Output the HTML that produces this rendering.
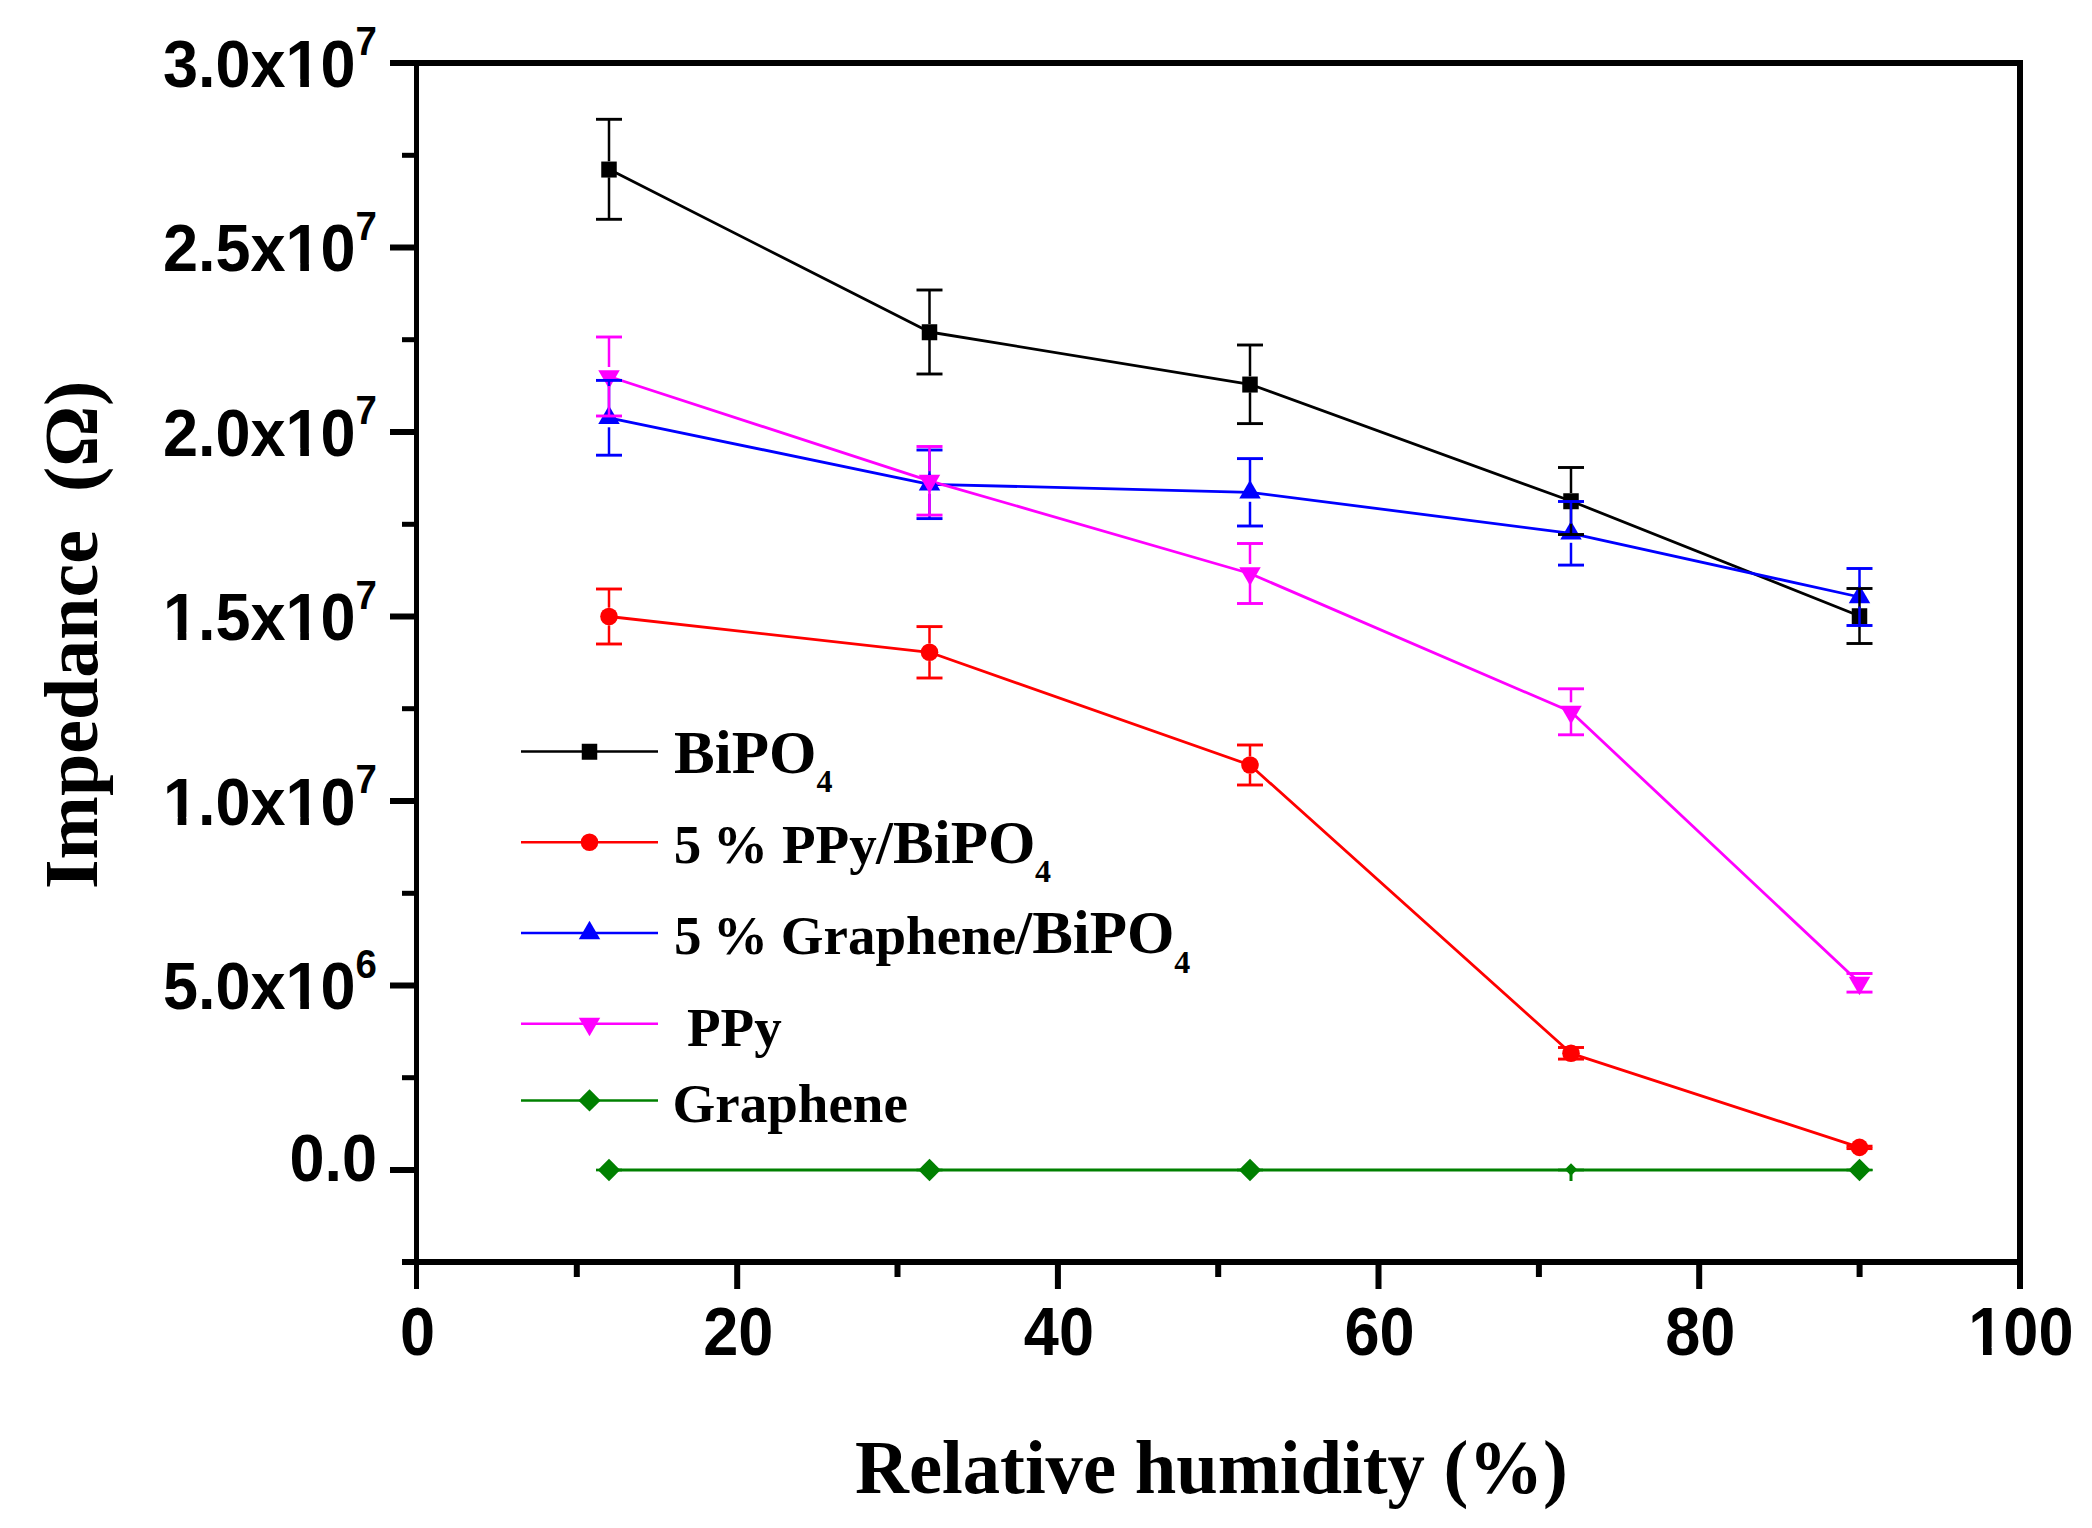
<!DOCTYPE html><html><head><meta charset="utf-8"><title>Impedance vs Relative humidity</title>
<style>html,body{margin:0;padding:0;background:#fff;}body{width:2092px;height:1528px;overflow:hidden;}svg{display:block;}.tk{font-family:"Liberation Sans",Arial,sans-serif;font-weight:bold;}.tt{font-family:"Liberation Serif","Times New Roman",serif;font-weight:bold;}</style></head><body>
<svg width="2092" height="1528" viewBox="0 0 2092 1528">
<rect x="0" y="0" width="2092" height="1528" fill="#fff"/>
<g fill="none" stroke-width="2.8" stroke-linejoin="round">
<polyline points="609.0,169.3 929.5,332.0 1250.0,384.3 1571.0,501.0 1859.5,616.0" stroke="#000000"/>
<polyline points="609.0,616.5 929.5,652.3 1250.0,765.0 1571.0,1053.3 1859.5,1147.4" stroke="#ff0000"/>
<polyline points="609.0,417.8 929.5,484.3 1250.0,492.3 1571.0,533.3 1859.5,597.0" stroke="#0000ff"/>
<polyline points="609.0,376.5 929.5,480.8 1250.0,573.5 1571.0,711.8 1859.5,982.8" stroke="#ff00ff"/>
<polyline points="609.0,1170.0 929.5,1170.0 1250.0,1170.0 1571.0,1170.0 1859.5,1170.0" stroke="#008000"/>
</g>
<rect x="601.25" y="161.55" width="15.50" height="16.00" fill="#000000"/>
<rect x="921.75" y="324.25" width="15.50" height="16.00" fill="#000000"/>
<rect x="1242.25" y="376.55" width="15.50" height="16.00" fill="#000000"/>
<rect x="1563.25" y="493.25" width="15.50" height="16.00" fill="#000000"/>
<rect x="1851.75" y="608.25" width="15.50" height="16.00" fill="#000000"/>
<circle cx="609.00" cy="616.50" r="8.80" fill="#ff0000"/>
<circle cx="929.50" cy="652.30" r="8.80" fill="#ff0000"/>
<circle cx="1250.00" cy="765.00" r="8.80" fill="#ff0000"/>
<circle cx="1571.00" cy="1053.30" r="8.80" fill="#ff0000"/>
<circle cx="1859.50" cy="1147.40" r="8.80" fill="#ff0000"/>
<polygon points="609.00,405.47 619.75,423.97 598.25,423.97" fill="#0000ff"/>
<polygon points="929.50,471.97 940.25,490.47 918.75,490.47" fill="#0000ff"/>
<polygon points="1250.00,479.97 1260.75,498.47 1239.25,498.47" fill="#0000ff"/>
<polygon points="1571.00,520.97 1581.75,539.47 1560.25,539.47" fill="#0000ff"/>
<polygon points="1859.50,584.67 1870.25,603.17 1848.75,603.17" fill="#0000ff"/>
<polygon points="598.25,370.33 619.75,370.33 609.00,388.83" fill="#ff00ff"/>
<polygon points="918.75,474.63 940.25,474.63 929.50,493.13" fill="#ff00ff"/>
<polygon points="1239.25,567.33 1260.75,567.33 1250.00,585.83" fill="#ff00ff"/>
<polygon points="1560.25,705.63 1581.75,705.63 1571.00,724.13" fill="#ff00ff"/>
<polygon points="1848.75,976.63 1870.25,976.63 1859.50,995.13" fill="#ff00ff"/>
<polygon points="609.00,1158.80 620.20,1170.00 609.00,1181.20 597.80,1170.00" fill="#008000"/>
<polygon points="929.50,1158.80 940.70,1170.00 929.50,1181.20 918.30,1170.00" fill="#008000"/>
<polygon points="1250.00,1158.80 1261.20,1170.00 1250.00,1181.20 1238.80,1170.00" fill="#008000"/>
<polygon points="1571.00,1163.23 1577.27,1169.50 1571.00,1175.77 1564.73,1169.50" fill="#008000"/>
<rect x="1569.5" y="1172.0" width="3" height="9" fill="#008000"/>
<polygon points="1859.50,1158.80 1870.70,1170.00 1859.50,1181.20 1848.30,1170.00" fill="#008000"/>
<line x1="609.0" y1="119.3" x2="609.0" y2="161.3" stroke="#000000" stroke-width="2.5"/>
<line x1="609.0" y1="177.3" x2="609.0" y2="219.3" stroke="#000000" stroke-width="2.5"/>
<line x1="596.0" y1="119.3" x2="622.0" y2="119.3" stroke="#000000" stroke-width="2.9"/>
<line x1="596.0" y1="219.3" x2="622.0" y2="219.3" stroke="#000000" stroke-width="2.9"/>
<line x1="929.5" y1="290.0" x2="929.5" y2="324.0" stroke="#000000" stroke-width="2.5"/>
<line x1="929.5" y1="340.0" x2="929.5" y2="374.0" stroke="#000000" stroke-width="2.5"/>
<line x1="916.5" y1="290.0" x2="942.5" y2="290.0" stroke="#000000" stroke-width="2.9"/>
<line x1="916.5" y1="374.0" x2="942.5" y2="374.0" stroke="#000000" stroke-width="2.9"/>
<line x1="1250.0" y1="345.0" x2="1250.0" y2="376.3" stroke="#000000" stroke-width="2.5"/>
<line x1="1250.0" y1="392.3" x2="1250.0" y2="423.6" stroke="#000000" stroke-width="2.5"/>
<line x1="1237.0" y1="345.0" x2="1263.0" y2="345.0" stroke="#000000" stroke-width="2.9"/>
<line x1="1237.0" y1="423.6" x2="1263.0" y2="423.6" stroke="#000000" stroke-width="2.9"/>
<line x1="1571.0" y1="467.5" x2="1571.0" y2="493.0" stroke="#000000" stroke-width="2.5"/>
<line x1="1571.0" y1="509.0" x2="1571.0" y2="534.5" stroke="#000000" stroke-width="2.5"/>
<line x1="1558.0" y1="467.5" x2="1584.0" y2="467.5" stroke="#000000" stroke-width="2.9"/>
<line x1="1558.0" y1="534.5" x2="1584.0" y2="534.5" stroke="#000000" stroke-width="2.9"/>
<line x1="1859.5" y1="588.5" x2="1859.5" y2="608.0" stroke="#000000" stroke-width="2.5"/>
<line x1="1859.5" y1="624.0" x2="1859.5" y2="643.5" stroke="#000000" stroke-width="2.5"/>
<line x1="1846.5" y1="588.5" x2="1872.5" y2="588.5" stroke="#000000" stroke-width="2.9"/>
<line x1="1846.5" y1="643.5" x2="1872.5" y2="643.5" stroke="#000000" stroke-width="2.9"/>
<line x1="609.0" y1="589.0" x2="609.0" y2="607.7" stroke="#ff0000" stroke-width="2.5"/>
<line x1="609.0" y1="625.3" x2="609.0" y2="644.0" stroke="#ff0000" stroke-width="2.5"/>
<line x1="596.0" y1="589.0" x2="622.0" y2="589.0" stroke="#ff0000" stroke-width="2.9"/>
<line x1="596.0" y1="644.0" x2="622.0" y2="644.0" stroke="#ff0000" stroke-width="2.9"/>
<line x1="929.5" y1="626.6" x2="929.5" y2="643.5" stroke="#ff0000" stroke-width="2.5"/>
<line x1="929.5" y1="661.1" x2="929.5" y2="678.0" stroke="#ff0000" stroke-width="2.5"/>
<line x1="916.5" y1="626.6" x2="942.5" y2="626.6" stroke="#ff0000" stroke-width="2.9"/>
<line x1="916.5" y1="678.0" x2="942.5" y2="678.0" stroke="#ff0000" stroke-width="2.9"/>
<line x1="1250.0" y1="745.0" x2="1250.0" y2="756.2" stroke="#ff0000" stroke-width="2.5"/>
<line x1="1250.0" y1="773.8" x2="1250.0" y2="785.0" stroke="#ff0000" stroke-width="2.5"/>
<line x1="1237.0" y1="745.0" x2="1263.0" y2="745.0" stroke="#ff0000" stroke-width="2.9"/>
<line x1="1237.0" y1="785.0" x2="1263.0" y2="785.0" stroke="#ff0000" stroke-width="2.9"/>
<line x1="1558.0" y1="1047.5" x2="1584.0" y2="1047.5" stroke="#ff0000" stroke-width="2.9"/>
<line x1="1558.0" y1="1059.1" x2="1584.0" y2="1059.1" stroke="#ff0000" stroke-width="2.9"/>
<line x1="1846.5" y1="1146.2" x2="1872.5" y2="1146.2" stroke="#ff0000" stroke-width="2.9"/>
<line x1="1846.5" y1="1148.6" x2="1872.5" y2="1148.6" stroke="#ff0000" stroke-width="2.9"/>
<line x1="609.0" y1="380.4" x2="609.0" y2="408.3" stroke="#0000ff" stroke-width="2.5"/>
<line x1="609.0" y1="427.3" x2="609.0" y2="455.2" stroke="#0000ff" stroke-width="2.5"/>
<line x1="596.0" y1="380.4" x2="622.0" y2="380.4" stroke="#0000ff" stroke-width="2.9"/>
<line x1="596.0" y1="455.2" x2="622.0" y2="455.2" stroke="#0000ff" stroke-width="2.9"/>
<line x1="929.5" y1="450.0" x2="929.5" y2="474.8" stroke="#0000ff" stroke-width="2.5"/>
<line x1="929.5" y1="493.8" x2="929.5" y2="518.6" stroke="#0000ff" stroke-width="2.5"/>
<line x1="916.5" y1="450.0" x2="942.5" y2="450.0" stroke="#0000ff" stroke-width="2.9"/>
<line x1="916.5" y1="518.6" x2="942.5" y2="518.6" stroke="#0000ff" stroke-width="2.9"/>
<line x1="1250.0" y1="458.6" x2="1250.0" y2="482.8" stroke="#0000ff" stroke-width="2.5"/>
<line x1="1250.0" y1="501.8" x2="1250.0" y2="526.0" stroke="#0000ff" stroke-width="2.5"/>
<line x1="1237.0" y1="458.6" x2="1263.0" y2="458.6" stroke="#0000ff" stroke-width="2.9"/>
<line x1="1237.0" y1="526.0" x2="1263.0" y2="526.0" stroke="#0000ff" stroke-width="2.9"/>
<line x1="1571.0" y1="501.5" x2="1571.0" y2="523.8" stroke="#0000ff" stroke-width="2.5"/>
<line x1="1571.0" y1="542.8" x2="1571.0" y2="565.1" stroke="#0000ff" stroke-width="2.5"/>
<line x1="1558.0" y1="501.5" x2="1584.0" y2="501.5" stroke="#0000ff" stroke-width="2.9"/>
<line x1="1558.0" y1="565.1" x2="1584.0" y2="565.1" stroke="#0000ff" stroke-width="2.9"/>
<line x1="1859.5" y1="568.5" x2="1859.5" y2="587.5" stroke="#0000ff" stroke-width="2.5"/>
<line x1="1859.5" y1="606.5" x2="1859.5" y2="625.5" stroke="#0000ff" stroke-width="2.5"/>
<line x1="1846.5" y1="568.5" x2="1872.5" y2="568.5" stroke="#0000ff" stroke-width="2.9"/>
<line x1="1846.5" y1="625.5" x2="1872.5" y2="625.5" stroke="#0000ff" stroke-width="2.9"/>
<line x1="609.0" y1="337.0" x2="609.0" y2="367.0" stroke="#ff00ff" stroke-width="2.5"/>
<line x1="609.0" y1="386.0" x2="609.0" y2="416.0" stroke="#ff00ff" stroke-width="2.5"/>
<line x1="596.0" y1="337.0" x2="622.0" y2="337.0" stroke="#ff00ff" stroke-width="2.9"/>
<line x1="596.0" y1="416.0" x2="622.0" y2="416.0" stroke="#ff00ff" stroke-width="2.9"/>
<line x1="929.5" y1="446.5" x2="929.5" y2="471.3" stroke="#ff00ff" stroke-width="2.5"/>
<line x1="929.5" y1="490.3" x2="929.5" y2="515.1" stroke="#ff00ff" stroke-width="2.5"/>
<line x1="916.5" y1="446.5" x2="942.5" y2="446.5" stroke="#ff00ff" stroke-width="2.9"/>
<line x1="916.5" y1="515.1" x2="942.5" y2="515.1" stroke="#ff00ff" stroke-width="2.9"/>
<line x1="1250.0" y1="543.5" x2="1250.0" y2="564.0" stroke="#ff00ff" stroke-width="2.5"/>
<line x1="1250.0" y1="583.0" x2="1250.0" y2="603.5" stroke="#ff00ff" stroke-width="2.5"/>
<line x1="1237.0" y1="543.5" x2="1263.0" y2="543.5" stroke="#ff00ff" stroke-width="2.9"/>
<line x1="1237.0" y1="603.5" x2="1263.0" y2="603.5" stroke="#ff00ff" stroke-width="2.9"/>
<line x1="1571.0" y1="688.8" x2="1571.0" y2="702.3" stroke="#ff00ff" stroke-width="2.5"/>
<line x1="1571.0" y1="721.3" x2="1571.0" y2="734.8" stroke="#ff00ff" stroke-width="2.5"/>
<line x1="1558.0" y1="688.8" x2="1584.0" y2="688.8" stroke="#ff00ff" stroke-width="2.9"/>
<line x1="1558.0" y1="734.8" x2="1584.0" y2="734.8" stroke="#ff00ff" stroke-width="2.9"/>
<line x1="1846.5" y1="973.5" x2="1872.5" y2="973.5" stroke="#ff00ff" stroke-width="2.9"/>
<line x1="1846.5" y1="992.1" x2="1872.5" y2="992.1" stroke="#ff00ff" stroke-width="2.9"/>
<line x1="596.0" y1="1170.0" x2="622.0" y2="1170.0" stroke="#008000" stroke-width="2.4"/>
<line x1="596.0" y1="1170.0" x2="622.0" y2="1170.0" stroke="#008000" stroke-width="2.4"/>
<line x1="916.5" y1="1170.0" x2="942.5" y2="1170.0" stroke="#008000" stroke-width="2.4"/>
<line x1="916.5" y1="1170.0" x2="942.5" y2="1170.0" stroke="#008000" stroke-width="2.4"/>
<line x1="1237.0" y1="1170.0" x2="1263.0" y2="1170.0" stroke="#008000" stroke-width="2.4"/>
<line x1="1237.0" y1="1170.0" x2="1263.0" y2="1170.0" stroke="#008000" stroke-width="2.4"/>
<line x1="1558.0" y1="1170.0" x2="1584.0" y2="1170.0" stroke="#008000" stroke-width="2.4"/>
<line x1="1558.0" y1="1170.0" x2="1584.0" y2="1170.0" stroke="#008000" stroke-width="2.4"/>
<line x1="1846.5" y1="1170.0" x2="1872.5" y2="1170.0" stroke="#008000" stroke-width="2.4"/>
<line x1="1846.5" y1="1170.0" x2="1872.5" y2="1170.0" stroke="#008000" stroke-width="2.4"/>
<g fill="#000">
<rect x="414" y="60" width="5" height="1229"/>
<rect x="390" y="60" width="1633" height="6"/>
<rect x="2017" y="60" width="6" height="1229"/>
<rect x="402" y="1259" width="1621" height="6"/>
<rect x="390" y="1167.0" width="26" height="6"/>
<rect x="390" y="982.5" width="26" height="6"/>
<rect x="390" y="798.0" width="26" height="6"/>
<rect x="390" y="613.5" width="26" height="6"/>
<rect x="390" y="429.0" width="26" height="6"/>
<rect x="390" y="244.5" width="26" height="6"/>
<rect x="402" y="1075.2" width="14" height="5"/>
<rect x="402" y="890.8" width="14" height="5"/>
<rect x="402" y="706.2" width="14" height="5"/>
<rect x="402" y="521.8" width="14" height="5"/>
<rect x="402" y="337.2" width="14" height="5"/>
<rect x="402" y="152.8" width="14" height="5"/>
<rect x="734.2" y="1262" width="6" height="27"/>
<rect x="1054.9" y="1262" width="6" height="27"/>
<rect x="1375.5" y="1262" width="6" height="27"/>
<rect x="1696.2" y="1262" width="6" height="27"/>
<rect x="573.8" y="1262" width="6" height="15"/>
<rect x="894.5" y="1262" width="6" height="15"/>
<rect x="1215.2" y="1262" width="6" height="15"/>
<rect x="1535.9" y="1262" width="6" height="15"/>
<rect x="1856.6" y="1262" width="6" height="15"/>
</g>
<g class="tk" fill="#000">
<g transform="translate(163,86.5) scale(0.94,1)"><text font-size="67">3.0x10</text><rect x="133.68" y="-7.60" width="12.37" height="8.6" fill="#fff"/><rect x="155.24" y="-7.60" width="11.65" height="8.6" fill="#fff"/></g>
<text transform="translate(355.5,55.0) scale(0.96,1)" font-size="40">7</text>
<g transform="translate(163,271.0) scale(0.94,1)"><text font-size="67">2.5x10</text><rect x="133.68" y="-7.60" width="12.37" height="8.6" fill="#fff"/><rect x="155.24" y="-7.60" width="11.65" height="8.6" fill="#fff"/></g>
<text transform="translate(355.5,239.5) scale(0.96,1)" font-size="40">7</text>
<g transform="translate(163,455.5) scale(0.94,1)"><text font-size="67">2.0x10</text><rect x="133.68" y="-7.60" width="12.37" height="8.6" fill="#fff"/><rect x="155.24" y="-7.60" width="11.65" height="8.6" fill="#fff"/></g>
<text transform="translate(355.5,424.0) scale(0.96,1)" font-size="40">7</text>
<g transform="translate(163,640.0) scale(0.94,1)"><text font-size="67">1.5x10</text><rect x="3.27" y="-7.60" width="12.37" height="8.6" fill="#fff"/><rect x="24.83" y="-7.60" width="11.65" height="8.6" fill="#fff"/><rect x="133.68" y="-7.60" width="12.37" height="8.6" fill="#fff"/><rect x="155.24" y="-7.60" width="11.65" height="8.6" fill="#fff"/></g>
<text transform="translate(355.5,608.5) scale(0.96,1)" font-size="40">7</text>
<g transform="translate(163,824.5) scale(0.94,1)"><text font-size="67">1.0x10</text><rect x="3.27" y="-7.60" width="12.37" height="8.6" fill="#fff"/><rect x="24.83" y="-7.60" width="11.65" height="8.6" fill="#fff"/><rect x="133.68" y="-7.60" width="12.37" height="8.6" fill="#fff"/><rect x="155.24" y="-7.60" width="11.65" height="8.6" fill="#fff"/></g>
<text transform="translate(355.5,793.0) scale(0.96,1)" font-size="40">7</text>
<g transform="translate(163,1009.0) scale(0.94,1)"><text font-size="67">5.0x10</text><rect x="133.68" y="-7.60" width="12.37" height="8.6" fill="#fff"/><rect x="155.24" y="-7.60" width="11.65" height="8.6" fill="#fff"/></g>
<text transform="translate(355.5,977.5) scale(0.96,1)" font-size="40">6</text>
<text transform="translate(289.5,1181.2) scale(0.94,1)" font-size="67">0.0</text>
<g transform="translate(417.5,1354.6) scale(0.927,1)"><text font-size="68" text-anchor="middle">0</text></g>
<g transform="translate(738.2,1354.6) scale(0.927,1)"><text font-size="68" text-anchor="middle">20</text></g>
<g transform="translate(1058.9,1354.6) scale(0.927,1)"><text font-size="68" text-anchor="middle">40</text></g>
<g transform="translate(1379.5,1354.6) scale(0.927,1)"><text font-size="68" text-anchor="middle">60</text></g>
<g transform="translate(1700.2,1354.6) scale(0.927,1)"><text font-size="68" text-anchor="middle">80</text></g>
<g transform="translate(2020.9,1354.6) scale(0.927,1)"><text font-size="68" text-anchor="middle">100</text><rect x="-53.41" y="-7.71" width="12.55" height="8.6" fill="#fff"/><rect x="-31.53" y="-7.71" width="11.82" height="8.6" fill="#fff"/></g>
</g>
<g class="tt" fill="#000">
<text transform="translate(855,1493.2) scale(0.982,1)" font-size="76">Relative humidity (%)</text>
<text transform="translate(97,889) rotate(-90)" font-size="76" xml:space="preserve">Impedance  (Ω)</text>
</g>
<line x1="521" y1="751.5" x2="658" y2="751.5" stroke="#000000" stroke-width="2.5"/>
<rect x="581.75" y="743.75" width="15.50" height="16.00" fill="#000000"/>
<line x1="521" y1="842.2" x2="658" y2="842.2" stroke="#ff0000" stroke-width="2.5"/>
<circle cx="589.50" cy="842.20" r="8.80" fill="#ff0000"/>
<line x1="521" y1="933.0" x2="658" y2="933.0" stroke="#0000ff" stroke-width="2.5"/>
<polygon points="589.50,920.67 600.25,939.17 578.75,939.17" fill="#0000ff"/>
<line x1="521" y1="1023.8" x2="658" y2="1023.8" stroke="#ff00ff" stroke-width="2.5"/>
<polygon points="578.75,1017.63 600.25,1017.63 589.50,1036.13" fill="#ff00ff"/>
<line x1="521" y1="1100.4" x2="658" y2="1100.4" stroke="#008000" stroke-width="2.5"/>
<polygon points="589.50,1089.20 600.70,1100.40 589.50,1111.60 578.30,1100.40" fill="#008000"/>
<g class="tt" fill="#000">
<text x="674" y="772.8" font-size="61">BiPO</text>
<text x="816.4" y="791.5" font-size="32">4</text>
<text y="863" font-size="55"><tspan x="673.7">5</tspan><tspan x="712.9">%</tspan><tspan x="782">PPy</tspan></text>
<text x="876.1" y="863" font-size="61">/BiPO</text>
<text x="1035" y="882.3" font-size="32">4</text>
<text y="953.5" font-size="55"><tspan x="674">5</tspan><tspan x="712.9">%</tspan><tspan x="780.8">Graphene</tspan></text>
<text x="1015.2" y="953.4" font-size="61">/BiPO</text>
<text x="1174.3" y="973.3" font-size="32">4</text>
<text x="687" y="1045.9" font-size="55">PPy</text>
<text x="672.6" y="1121.7" font-size="55">Graphene</text>
</g>
</svg></body></html>
